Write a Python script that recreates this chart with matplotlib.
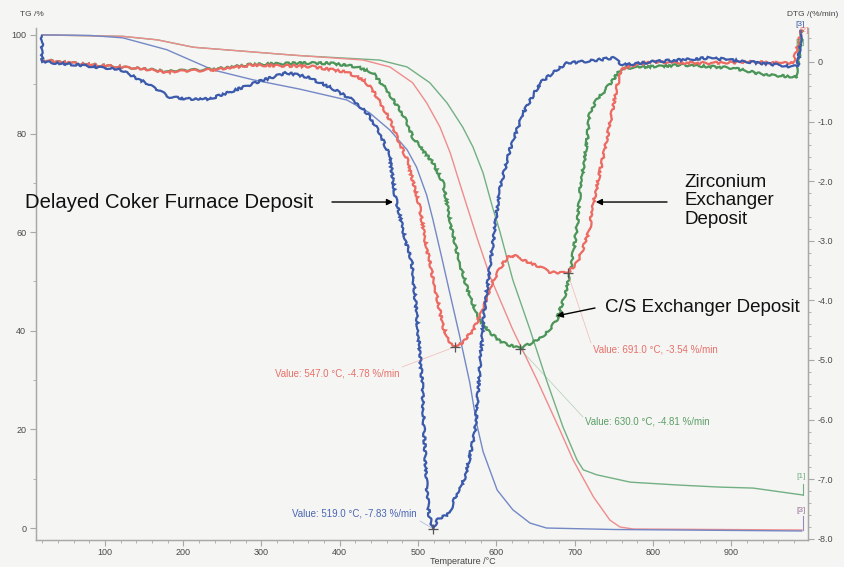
import matplotlib
matplotlib.use("Agg")
import matplotlib.pyplot as plt
from matplotlib.ticker import MultipleLocator, FuncFormatter

plt.rcParams['font.family'] = ['Liberation Sans', 'DejaVu Sans']

# ---------------- data ----------------
# DTG (%/min) vs temperature (degC)
dtg_blue_t = [19.5, 20, 68, 119, 145, 174, 183, 209, 234, 260, 294, 332, 358, 387, 417,
              435, 451, 464, 470, 477, 483, 492, 498, 505, 508, 511, 514, 519, 525, 532,
              541, 544, 553, 560, 566, 573, 578, 583, 590, 597, 604, 617, 634, 656, 677,
              690, 707, 728, 749, 761, 783, 796, 873, 924, 979, 985, 990]
dtg_blue_v = [0.45, 0.0, -0.05, -0.13, -0.30, -0.52, -0.59, -0.62, -0.62, -0.50, -0.34, -0.18,
              -0.25, -0.42, -0.64, -0.86, -1.19, -1.59, -2.20, -2.60, -2.95, -3.37, -4.21,
              -5.34, -6.30, -7.10, -7.60, -7.83, -7.68, -7.63, -7.57, -7.40, -7.18, -6.96,
              -6.63, -6.17, -5.30, -4.38, -3.60, -2.90, -2.15, -1.48, -0.86, -0.35, -0.13,
              -0.02, 0.0, 0.03, 0.07, -0.05, -0.02, 0.0, 0.07, 0.0, -0.08, -0.05, 0.54]

dtg_red_t = [19.5, 68, 136, 179, 238, 289, 349, 366, 409, 430, 442, 455, 464, 473, 486, 493,
             502, 509, 515, 524, 532, 541, 547, 557, 570, 583, 592, 601, 613, 621, 630, 643,
             656, 668, 681, 691, 703, 710, 719, 723, 732, 741, 749, 754, 760, 767, 796, 860,
             924, 979, 990]
dtg_red_v = [0.03, -0.03, -0.10, -0.17, -0.13, -0.05, -0.07, -0.08, -0.17, -0.30, -0.47,
             -0.76, -0.97, -1.26, -1.64, -1.98, -2.43, -2.99, -3.37, -3.94, -4.45, -4.71,
             -4.78, -4.71, -4.50, -4.16, -3.78, -3.54, -3.29, -3.24, -3.29, -3.37, -3.44,
             -3.52, -3.54, -3.54, -3.37, -3.15, -2.82, -2.43, -1.86, -1.31, -0.76, -0.42,
             -0.13, -0.08, 0.0, -0.02, 0.0, -0.02, 0.54]

dtg_green_t = [19.5, 68, 136, 179, 238, 289, 349, 387, 422, 442, 460, 477, 486, 493, 506, 519,
               532, 543, 553, 566, 579, 592, 608, 630, 646, 664, 677, 687, 694, 700, 704, 707,
               716, 719, 728, 736, 749, 758, 767, 838, 902, 945, 984, 990]
dtg_green_v = [0.03, -0.03, -0.10, -0.16, -0.12, -0.04, -0.02, -0.02, -0.08, -0.18, -0.47,
               -0.81, -1.02, -1.26, -1.48, -1.69, -2.03, -2.82, -3.37, -3.94, -4.33, -4.55,
               -4.71, -4.81, -4.71, -4.55, -4.33, -3.94, -3.54, -3.05, -2.65, -2.15, -1.31,
               -0.86, -0.64, -0.52, -0.30, -0.13, -0.10, -0.05, -0.10, -0.22, -0.25, 0.54]

# TG (%) vs temperature (degC)
tg_blue_t = [19.5, 80, 123, 179, 238, 289, 349, 409, 438, 464, 486, 498, 511, 519, 530, 540,
             553, 566, 575, 583, 601, 621, 643, 664, 750, 990]
tg_blue_v = [100, 99.9, 99.4, 97.0, 92.9, 90.9, 89.0, 86.8, 84.2, 80.7, 76.7, 73.2, 67.5,
             62.5, 55.0, 48.0, 39.0, 29.5, 21.0, 15.5, 7.7, 3.7, 1.0, 0.0, -0.3, -0.6]

tg_red_t = [19.5, 123, 167, 213, 324, 349, 430, 464, 493, 511, 528, 541, 553, 566, 575, 592,
            621, 652, 681, 698, 724, 745, 758, 775, 990]
tg_red_v = [100, 99.7, 99.0, 97.5, 96.1, 95.8, 94.9, 93.5, 90.3, 86.2, 81.3, 76.1, 70.0,
            63.5, 59.0, 51.0, 40.2, 30.0, 19.9, 13.8, 6.3, 1.6, 0.2, -0.2, -0.4]

tg_green_t = [19.5, 123, 167, 213, 324, 349, 451, 486, 515, 537, 557, 570, 583, 595, 604,
              621, 643, 664, 685, 703, 711, 728, 771, 834, 885, 928, 991]
tg_green_v = [100, 99.7, 99.0, 97.5, 96.1, 95.8, 94.9, 93.5, 90.3, 86.2, 81.3, 77.3, 72.0,
              65.1, 60.4, 50.3, 40.2, 30.0, 20.5, 13.8, 11.8, 10.8, 9.3, 8.7, 8.3, 8.1, 6.7]

# picked peak values (temperature, %/min, colour key)
peaks = [(519.0, -7.83, 'blue'), (547.0, -4.78, 'red'), (691.0, -3.54, 'red'),
         (630.0, -4.81, 'green')]

tg_ticks = [0, 20, 40, 60, 80, 100]
dtg_ticks = [0, -1, -2, -3, -4, -5, -6, -7, -8]
t_ticks = [100, 200, 300, 400, 500, 600, 700, 800, 900]

# ---------------- style ----------------
BG = '#f5f5f3'
C_DTG = {'blue': '#3b5aab', 'red': '#ec6a62', 'green': '#4c9559'}
C_TG = {'blue': '#7488c6', 'red': '#ef8c8c', 'green': '#72b083'}
C_TXT = {'blue': '#4b66b4', 'red': '#e8706a', 'green': '#5a9f66'}

W, H = 844, 567
fig = plt.figure(figsize=(W / 100, H / 100), dpi=100, facecolor=BG)
ax = fig.add_axes([36 / W, 1 - 540 / H, (808 - 36) / W, (540 - 28) / H])
ax.set_facecolor(BG)
ax.set_xlim(12, 998)
ax.set_ylim(-2.43, 101.4)
ax2 = ax.twinx()
ax2.set_ylim(-8.02, 0.57)

# TG traces (thin)
ax.plot(tg_green_t, tg_green_v, color=C_TG['green'], lw=1.0)
ax.plot(tg_red_t, tg_red_v, color=C_TG['red'], lw=1.0)
ax.plot(tg_blue_t, tg_blue_v, color=C_TG['blue'], lw=1.0)

# DTG traces (bold, with a slightly ragged rendering)
for t, v, k in [(dtg_green_t, dtg_green_v, 'green'), (dtg_red_t, dtg_red_v, 'red'),
                (dtg_blue_t, dtg_blue_v, 'blue')]:
    ln, = ax2.plot(t, v, color=C_DTG[k], lw=1.6, solid_joinstyle='miter',
                   solid_capstyle='butt')
    ln.set_sketch_params(scale=1.1, length=12, randomness=6)

# spines / ticks
grey = '#a8a8a8'
for a in (ax, ax2):
    a.spines['top'].set_visible(False)
    for s in ('left', 'right', 'bottom'):
        a.spines[s].set_color(grey)
        a.spines[s].set_linewidth(0.9)

ax.set_xticks(t_ticks)
ax.xaxis.set_minor_locator(MultipleLocator(20))
ax.set_yticks(tg_ticks)
ax.yaxis.set_minor_locator(MultipleLocator(10))
ax2.set_yticks(dtg_ticks)
ax2.yaxis.set_minor_locator(MultipleLocator(0.2))
ax2.yaxis.set_major_formatter(FuncFormatter(lambda v, p: '0' if abs(v) < 1e-9 else f'{v:.1f}'))

for a in (ax, ax2):
    a.tick_params(which='major', length=4, width=0.8, color=grey, labelsize=6.5,
                  labelcolor='#4a4a4a', pad=3)
    a.tick_params(which='minor', length=2, width=0.6, color=grey)
ax.tick_params(axis='x', which='major', pad=2)

# axis titles
fig.text(20 / W, 1 - 14 / H, 'TG /%', fontsize=6, color='#444444', va='center', ha='left')
fig.text(838 / W, 1 - 15 / H, 'DTG /(%/min)', fontsize=6, color='#444444', va='center', ha='right')
fig.text(463 / W, 1 - 562 / H, 'Temperature /°C', fontsize=6.5, color='#444444',
         va='center', ha='center')

# peak markers and value labels
label_pos = {519.0: (292, 513, (420, 521)), 547.0: (275, 374, (402, 367)),
             691.0: (593, 350, (591, 343)), 630.0: (585, 421, (583, 417))}
for tpk, vpk, k in peaks:
    ax2.plot([tpk], [vpk], marker='+', ms=7, mew=0.9, color='#555555', zorder=5)
    lx, ly, (ex, ey) = label_pos[tpk]
    fig.text(lx / W, 1 - ly / H, f'Value: {tpk:.1f} °C, {vpk:.2f} %/min', fontsize=7,
             color=C_TXT[k], va='center', ha='left')
    ax2.annotate('', xy=(tpk, vpk), xycoords='data', xytext=(ex, H - ey),
                 textcoords='figure pixels',
                 arrowprops=dict(arrowstyle='-', color=C_TXT[k], lw=0.5, alpha=0.45,
                                 shrinkA=0, shrinkB=0))

# sample labels with arrows
txt_kw = dict(color='#111111', va='center', ha='left')
fig.text(25 / W, 1 - 203 / H, 'Delayed Coker Furnace Deposit', fontsize=14.6, **txt_kw)
fig.text(684 / W, 1 - 201 / H, 'Zirconium\nExchanger\nDeposit', fontsize=13.5,
         linespacing=1.15, **txt_kw)
fig.text(605 / W, 1 - 307 / H, 'C/S Exchanger Deposit', fontsize=13.5, **txt_kw)

arrow_kw = dict(arrowstyle='-|>', color='black', lw=1.0, mutation_scale=9,
                shrinkA=0, shrinkB=0)
ax2.annotate('', xy=(468, -2.35), xytext=(332, H - 202), textcoords='figure pixels',
             arrowprops=arrow_kw)
ax2.annotate('', xy=(727, -2.35), xytext=(667, H - 202), textcoords='figure pixels',
             arrowprops=arrow_kw)
ax2.annotate('', xy=(677, -4.26), xytext=(595, H - 308), textcoords='figure pixels',
             arrowprops=arrow_kw)

# curve index tags at the right end
tag_kw = dict(fontsize=6, va='center', ha='center')
fig.text(800 / W, 1 - 25 / H, '[3]', color=C_DTG['blue'], **tag_kw)
fig.text(804 / W, 1 - 31 / H, '[2]', color=C_DTG['red'], alpha=0.8, **tag_kw)
fig.text(800 / W, 1 - 42 / H, '[1]', color=C_DTG['green'], alpha=0.8, **tag_kw)
fig.text(801 / W, 1 - 477 / H, '[1]', color=C_TG['green'], **tag_kw)
fig.text(801 / W, 1 - 510 / H, '[3]', color=C_TG['blue'], **tag_kw)
fig.text(801 / W, 1 - 510 / H, '[2]', color=C_TG['red'], alpha=0.6, **tag_kw)
for (x0, y0, y1, c) in [(803, 495, 484, C_TG['green']), (803, 530, 516, '#9a88b8')]:
    fig.add_artist(plt.Line2D([x0 / W, x0 / W], [1 - y0 / H, 1 - y1 / H], color=c, lw=0.8))

fig.savefig('out.png', dpi=100, facecolor=BG)
